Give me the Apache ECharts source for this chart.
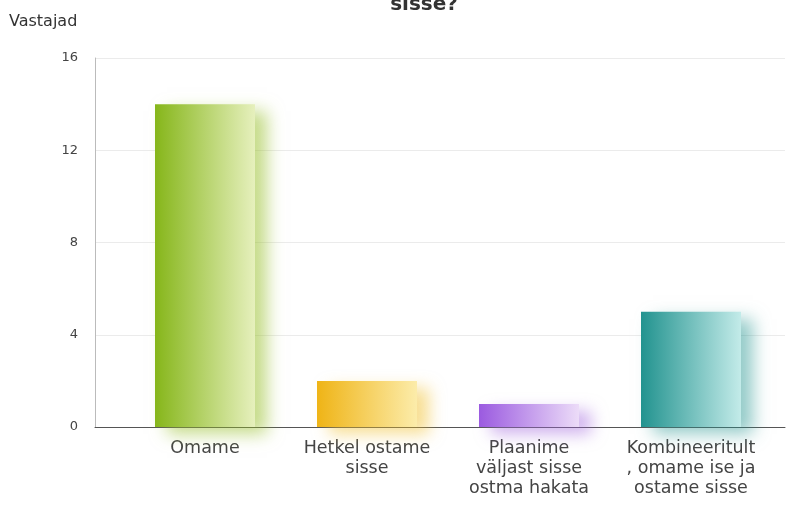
<!DOCTYPE html>
<html>
<head>
<meta charset="utf-8">
<script src="https://cdn.jsdelivr.net/npm/echarts@6/dist/echarts.min.js"></script>
<style>
  html, body { margin: 0; padding: 0; background: #fff; }
  #chart { width: 790px; height: 505px; }
</style>
</head>
<body>
<div id="chart"></div>
<script>
// Survey answers and respondent counts
const categories = [
  'Omame',
  'Hetkel ostame\nsisse',
  'Plaanime\nväljast sisse\nostma hakata',
  'Kombineeritult\n, omame ise ja\nostame sisse'
];
const respondents = [14, 2, 1, 5];
const yTicks = [0, 4, 8, 12, 16];

// Horizontal gradient per bar: saturated left edge fading to pale right edge
const barColors = [
  ['#86b61a', '#e6f0bd'],
  ['#efb416', '#fcecaa'],
  ['#9b5ae0', '#ecdcf8'],
  ['#22938f', '#c3ebe9']
];
const shadowColors = ['rgba(150,190,40,0.55)', 'rgba(240,190,40,0.5)', 'rgba(160,100,220,0.5)', 'rgba(40,150,145,0.5)'];

const chart = echarts.init(document.getElementById('chart'));
const font = 'DejaVu Sans, Verdana, sans-serif';

chart.setOption({
  animation: false,
  title: {
    text: 'sisse?',
    left: 419,
    top: -10,
    textAlign: 'center',
    textStyle: { fontFamily: font, fontSize: 20, fontWeight: 'bold', color: '#333' }
  },
  grid: [
    { left: 95, right: 5, top: 58, bottom: 78 },
    { left: 124, right: 18, top: 58, bottom: 78 }
  ],
  xAxis: [
    {
      gridIndex: 0, type: 'value', min: 0, max: 1,
      axisLine: { show: true, lineStyle: { color: '#555', width: 1 } },
      axisTick: { show: false }, axisLabel: { show: false }, splitLine: { show: false }
    },
    {
      gridIndex: 1, type: 'category', data: categories,
      axisLine: { show: false }, axisTick: { show: false },
      axisLabel: {
        fontFamily: font, fontSize: 17.5, color: '#444', lineHeight: 20,
        margin: 11, interval: 0
      }
    }
  ],
  yAxis: [
    {
      gridIndex: 0, type: 'value', min: 0, max: 16, interval: 4,
      name: 'Vastajad', nameLocation: 'end', nameGap: 28,
      nameTextStyle: { fontFamily: font, fontSize: 16, color: '#333', align: 'left', padding: [0, 0, 0, -86] },
      axisLine: { show: true, lineStyle: { color: '#bbb' } },
      axisTick: { show: false },
      axisLabel: {
        fontFamily: font, fontSize: 13, color: '#444', margin: 17,
        customValues: yTicks
      },
      splitLine: { show: true, lineStyle: { color: '#ebebeb' } }
    },
    {
      gridIndex: 1, type: 'value', min: 0, max: 16, interval: 4,
      show: false, splitLine: { show: false }
    }
  ],
  series: [{
    type: 'bar',
    xAxisIndex: 1,
    yAxisIndex: 1,
    barWidth: 100,
    z: 3,
    data: respondents.map((v, i) => ({
      value: v,
      itemStyle: {
        color: new echarts.graphic.LinearGradient(0, 0, 1, 0, [
          { offset: 0, color: barColors[i][0] },
          { offset: 1, color: barColors[i][1] }
        ]),
        shadowColor: shadowColors[i],
        shadowBlur: 16,
        shadowOffsetX: 12,
        shadowOffsetY: 7
      }
    }))
  }]
});
</script>
</body>
</html>
